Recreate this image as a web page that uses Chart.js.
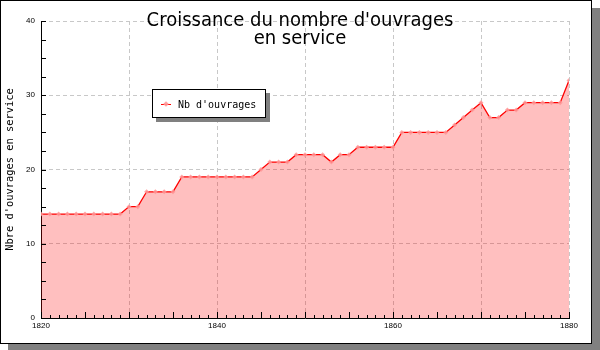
<!DOCTYPE html>
<html><head><meta charset="utf-8">
<script src="https://cdn.jsdelivr.net/npm/chart.js@4/dist/chart.umd.min.js"></script>
<style>
html,body{margin:0;padding:0;background:#fff;}
#wrap{position:relative;width:600px;height:350px;}
#legend{position:absolute;left:152px;top:89px;width:112px;height:27px;border:1px solid #000;background:#fff;box-shadow:4px 4px 0 #808080;font:10px "DejaVu Sans Mono",monospace;color:#000;}
#legend .item{position:absolute;left:8px;top:9px;display:flex;align-items:center;white-space:nowrap;}
#legend .sw{position:relative;width:10px;height:0;border-top:1.5px solid #f00;margin-right:7px;}
#legend .sw i{position:absolute;left:3px;top:-3.5px;width:4px;height:4px;background:rgba(255,150,150,0.9);transform:rotate(45deg);}
</style></head>
<body><div id="wrap"><canvas id="c" width="600" height="350"></canvas><div id="legend"></div></div>
<script>
const years = [1820,1821,1822,1823,1824,1825,1826,1827,1828,1829,
  1830,1831,1832,1833,1834,1835,1836,1837,1838,1839,
  1840,1841,1842,1843,1844,1845,1846,1847,1848,1849,
  1850,1851,1852,1853,1854,1855,1856,1857,1858,1859,
  1860,1861,1862,1863,1864,1865,1866,1867,1868,1869,
  1870,1871,1872,1873,1874,1875,1876,1877,1878,1879,1880];
const counts = [14,14,14,14,14,14,14,14,14,14,
  15,15,17,17,17,17,19,19,19,19,
  19,19,19,19,19,20,21,21,21,22,
  22,22,22,21,22,22,23,23,23,23,
  23,25,25,25,25,25,25,26,27,28,
  29,27,27,28,28,29,29,29,29,29,32];
const titleLines = ["Croissance du nombre d'ouvrages", "en service"];
const seriesLabel = "Nb d'ouvrages";
const yAxisTitle = "Nbre d'ouvrages en service";
const xLabelTicks = [1820, 1840, 1860, 1880];
const yLabelTicks = [0, 10, 20, 30, 40];

const points = years.map((yr, i) => ({x: yr, y: counts[i]}));

const framePlugin = {
  id: 'frame',
  beforeDraw(chart) {
    const c = chart.ctx;
    c.save();
    c.fillStyle = '#808080';
    c.fillRect(8, 8, 592, 342);
    c.fillStyle = '#fff';
    c.fillRect(0, 0, 592, 344);
    c.strokeStyle = '#000';
    c.lineWidth = 1;
    c.strokeRect(0.5, 0.5, 591, 343);
    c.restore();
  }
};

const tickMarks = {
  id: 'tickMarks',
  afterDatasetsDraw(chart) {
    const {ctx, scales: {x, y}} = chart;
    ctx.save();
    ctx.strokeStyle = '#000';
    ctx.lineWidth = 1;
    ctx.beginPath();
    const yb = Math.round(y.getPixelForValue(y.min));
    for (let v = x.min; v <= x.max; v += 1) {
      const px = Math.round(x.getPixelForValue(v)) + 0.5;
      const len = (v % 5 === 0) ? 6 : 3;
      ctx.moveTo(px, yb);
      ctx.lineTo(px, yb - len);
    }
    const xl = Math.round(x.getPixelForValue(x.min));
    for (let v = y.min; v <= y.max; v += 2.5) {
      const py = Math.round(y.getPixelForValue(v)) + 0.5;
      ctx.moveTo(xl, py);
      ctx.lineTo(xl + 5, py);
    }
    ctx.stroke();
    ctx.restore();
  }
};

const htmlLegend = {
  id: 'htmlLegend',
  afterUpdate(chart) {
    const box = document.getElementById('legend');
    box.innerHTML = '';
    chart.data.datasets.forEach(ds => {
      const item = document.createElement('div');
      item.className = 'item';
      const sw = document.createElement('span');
      sw.className = 'sw';
      sw.appendChild(document.createElement('i'));
      const tx = document.createElement('span');
      tx.textContent = ds.label;
      item.appendChild(sw);
      item.appendChild(tx);
      box.appendChild(item);
    });
  }
};

const gridColor = '#c8c8c8';
const tickFont = {family: '"Liberation Sans", Arial, sans-serif', size: 8};

new Chart(document.getElementById('c'), {
  type: 'line',
  data: {
    datasets: [{
      label: seriesLabel,
      data: points,
      borderColor: '#ff0000',
      borderWidth: 1.3,
      backgroundColor: 'rgba(255,0,0,0.25)',
      fill: 'origin',
      tension: 0,
      pointStyle: 'rectRot',
      pointRadius: 2.5,
      pointBackgroundColor: 'rgba(255,150,150,0.85)',
      pointBorderWidth: 0
    }]
  },
  options: {
    responsive: false,
    animation: false,
    events: [],
    layout: {padding: {left: 0, top: 0, right: 0, bottom: 0}},
    plugins: {
      legend: {display: false},
      tooltip: {enabled: false},
      title: {
        display: true,
        text: titleLines,
        color: '#000',
        font: {family: '"DejaVu Sans Condensed", "DejaVu Sans", sans-serif', size: 20, weight: 'normal', lineHeight: 0.9},
        padding: {top: 11.4, bottom: -26.4}
      }
    },
    scales: {
      x: {
        type: 'linear',
        min: 1820, max: 1880,
        afterFit(s) { s.height = 32; },
        ticks: {
          stepSize: 10, autoSkip: false, maxRotation: 0, padding: 3,
          color: '#000', font: tickFont,
          callback: v => xLabelTicks.includes(v) ? String(v) : ''
        },
        grid: {drawTicks: false, color: gridColor, lineWidth: 1},
        border: {display: true, color: '#000', width: 1, dash: [4, 3]}
      },
      y: {
        min: 0, max: 40,
        afterFit(s) { s.width = 41; },
        ticks: {
          stepSize: 10, padding: 6, color: '#000', font: tickFont,
          callback: v => yLabelTicks.includes(v) ? String(v) : ''
        },
        grid: {drawTicks: false, color: gridColor, lineWidth: 1},
        border: {display: true, color: '#000', width: 1, dash: [4, 3]},
        title: {
          display: true, text: yAxisTitle, color: '#000',
          font: {family: '"DejaVu Sans Mono", monospace', size: 10.4, weight: 'normal'},
          padding: {top: 4, bottom: 0}
        }
      },
      yRight: {
        position: 'right',
        min: 0, max: 40,
        afterFit(s) { s.width = 31; },
        ticks: {display: false},
        grid: {display: false, drawOnChartArea: false},
        border: {display: false}
      }
    }
  },
  plugins: [framePlugin, tickMarks, htmlLegend]
});
</script>
</body></html>
